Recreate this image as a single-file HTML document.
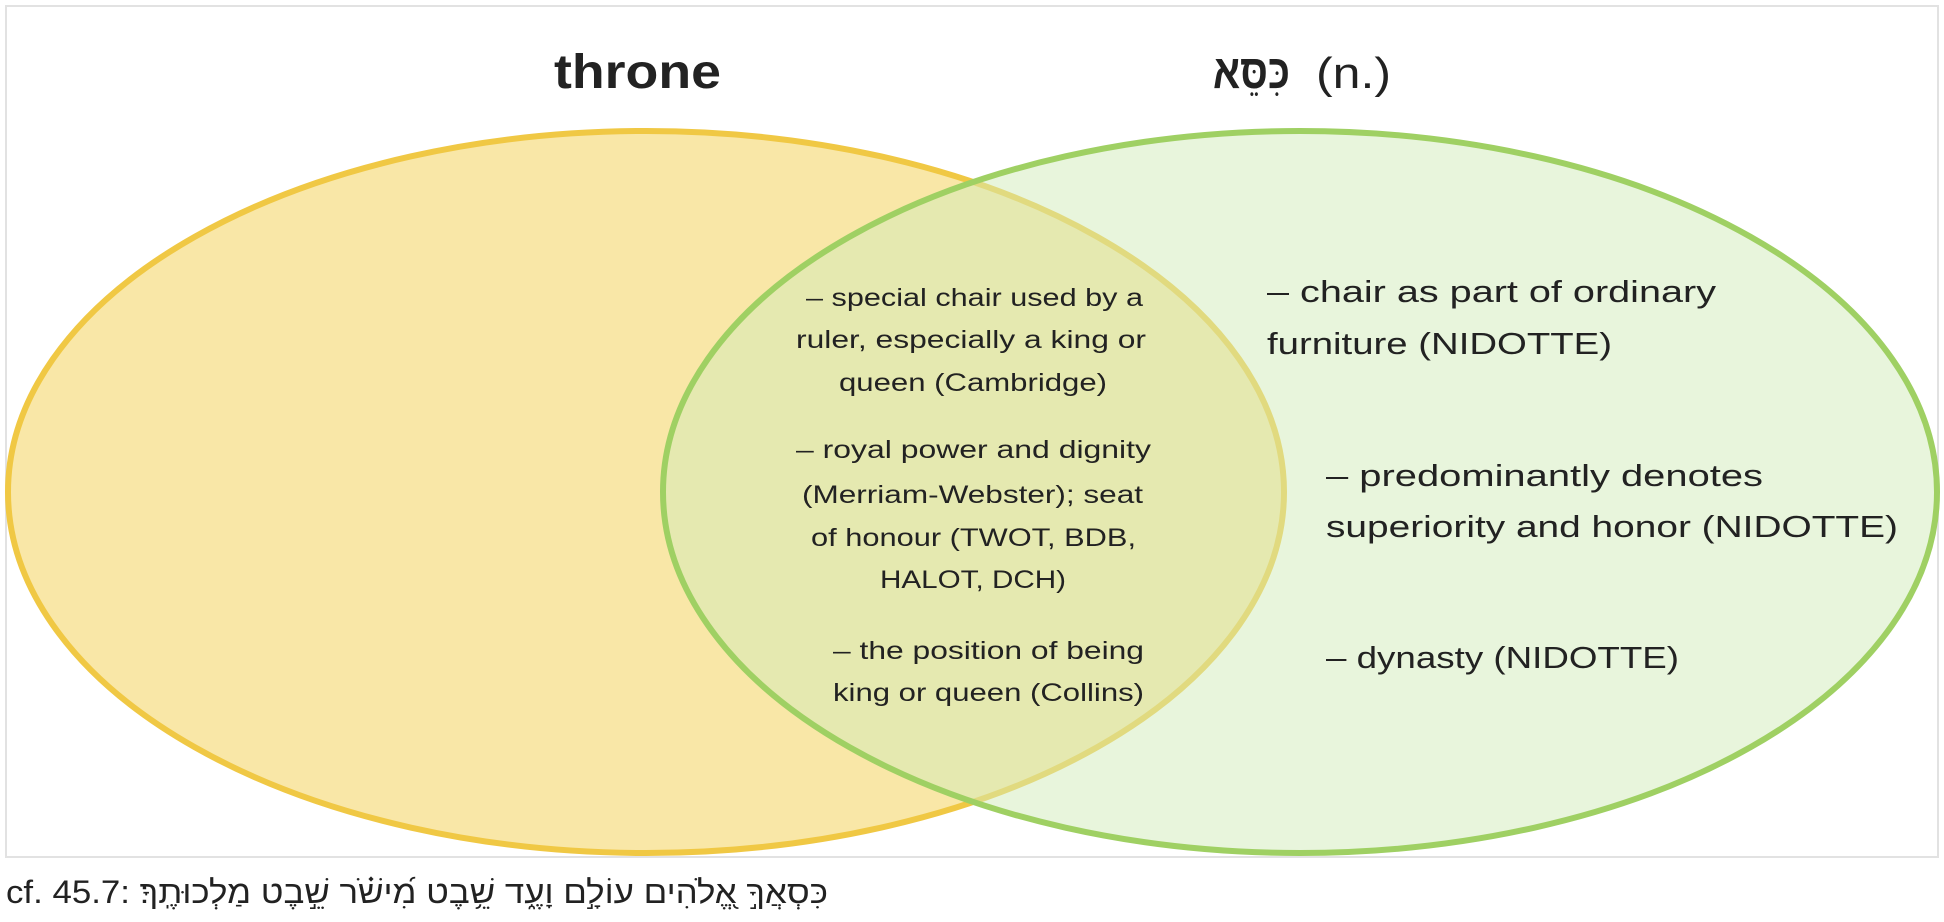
<!DOCTYPE html>
<html><head><meta charset="utf-8"><style>
html,body{margin:0;padding:0;background:#fff;width:1944px;height:922px;overflow:hidden}
svg text{font-family:"Liberation Sans","Noto Sans CJK JP","DejaVu Sans",sans-serif;fill:#222}
</style></head><body>
<svg width="1944" height="922" viewBox="0 0 1944 922">
<rect x="6" y="6" width="1932" height="851" fill="#fff" stroke="#e2e2e2" stroke-width="2"/>
<ellipse cx="646" cy="492" rx="638" ry="361" fill="#f9e7a7" stroke="#f0c844" stroke-width="6"/>
<ellipse cx="1300" cy="492" rx="637" ry="361" fill="rgba(209,235,185,0.5)"/>
<ellipse cx="1300" cy="492" rx="637" ry="361" fill="none" stroke="#9fd063" stroke-width="6"/>
<text x="554" y="88" font-size="48" font-weight="bold" textLength="167" lengthAdjust="spacingAndGlyphs">throne</text>
<text x="1213" y="88" font-size="48" font-weight="bold" font-family="'DejaVu Sans',sans-serif" textLength="77" lengthAdjust="spacingAndGlyphs">כִּסֵּא</text>
<text x="1316" y="88" font-size="44" textLength="75" lengthAdjust="spacingAndGlyphs">(n.)</text>
<g font-size="25">
<text x="806" y="306" textLength="337" lengthAdjust="spacingAndGlyphs">– special chair used by a</text>
<text x="796" y="348" textLength="350" lengthAdjust="spacingAndGlyphs">ruler, especially a king or</text>
<text x="839" y="391" textLength="268" lengthAdjust="spacingAndGlyphs">queen (Cambridge)</text>
<text x="796" y="458" textLength="355" lengthAdjust="spacingAndGlyphs">– royal power and dignity</text>
<text x="802" y="503" textLength="341" lengthAdjust="spacingAndGlyphs">(Merriam-Webster); seat</text>
<text x="811" y="546" textLength="325" lengthAdjust="spacingAndGlyphs">of honour (TWOT, BDB,</text>
<text x="880" y="588" textLength="186" lengthAdjust="spacingAndGlyphs">HALOT, DCH)</text>
<text x="833" y="659" textLength="311" lengthAdjust="spacingAndGlyphs">– the position of being</text>
<text x="833" y="701" textLength="311" lengthAdjust="spacingAndGlyphs">king or queen (Collins)</text>
</g>
<g font-size="31">
<text x="1267" y="302" textLength="449" lengthAdjust="spacingAndGlyphs">– chair as part of ordinary</text>
<text x="1267" y="354" textLength="345" lengthAdjust="spacingAndGlyphs">furniture (NIDOTTE)</text>
<text x="1326" y="486" textLength="437" lengthAdjust="spacingAndGlyphs">– predominantly denotes</text>
<text x="1326" y="537" textLength="572" lengthAdjust="spacingAndGlyphs">superiority and honor (NIDOTTE)</text>
<text x="1326" y="668" textLength="353" lengthAdjust="spacingAndGlyphs">– dynasty (NIDOTTE)</text>
</g>
<text x="6" y="903" font-size="32" font-family="'DejaVu Sans',sans-serif" textLength="822" lengthAdjust="spacingAndGlyphs">cf. 45.7: ‏כִּסְאֲךָ֣ אֱ֭לֹהִים עוֹלָ֣ם וָעֶ֑ד שֵׁ֥בֶט מִ֝ישֹׁ֗ר שֵׁ֣בֶט מַלְכוּתֶֽךָ׃</text>
</svg>
</body></html>
